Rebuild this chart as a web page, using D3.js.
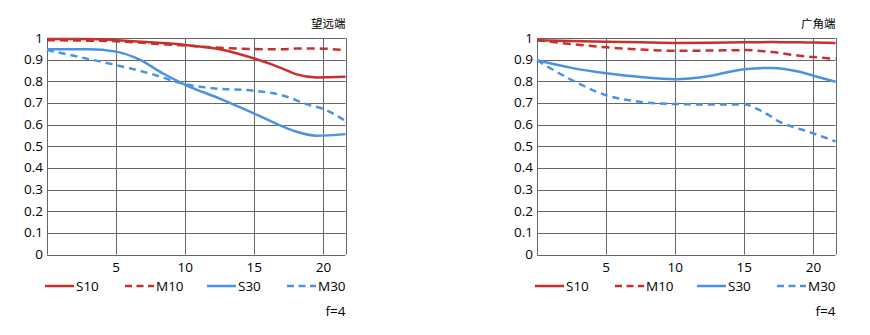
<!DOCTYPE html>
<html><head><meta charset="utf-8">
<script src="https://cdn.jsdelivr.net/npm/d3@7"></script>
<style>body{margin:0;background:#fff;} text{font-family:"Open Sans","Noto Sans CJK SC",sans-serif;}</style>
</head><body><svg id="c" width="870" height="335"></svg>
<script>
// Data
const xTicks = [5, 10, 15, 20];
const yTicks = [0, 0.1, 0.2, 0.3, 0.4, 0.5, 0.6, 0.7, 0.8, 0.9, 1];
const yTickLabels = ["0", "0.1", "0.2", "0.3", "0.4", "0.5", "0.6", "0.7", "0.8", "0.9", "1"];
const seriesNames = ["S10", "M10", "S30", "M30"];
const titles = ["望远端", "广角端"];
const apertureLabel = "f=4";

// Telephoto (望远端)
const teleX = [0, 2.5, 5, 7.5, 10, 12.5, 15, 17, 18, 19.5, 21.6];
const teleS10 = [0.995, 0.995, 0.99, 0.98, 0.968, 0.948, 0.905, 0.86, 0.833, 0.818, 0.821];
const teleM10 = [0.99, 0.988, 0.985, 0.975, 0.965, 0.955, 0.949, 0.948, 0.951, 0.952, 0.943];
const teleS30X = [0, 3, 5, 6.7, 8.4, 10, 12.5, 15, 17, 18, 19.5, 21.6];
const teleS30 = [0.948, 0.948, 0.937, 0.9, 0.836, 0.784, 0.72, 0.651, 0.593, 0.568, 0.549, 0.556];
const teleM30X = [0, 2.5, 5, 7.5, 10, 12, 15, 17, 19, 20, 21.6];
const teleM30 = [0.945, 0.91, 0.875, 0.835, 0.787, 0.768, 0.756, 0.736, 0.69, 0.672, 0.617];

// Wide (广角端)
const wideX = [0, 2.5, 5, 7.5, 10, 12.5, 15, 17, 19, 20, 21.6];
const wideS10 = [0.99, 0.986, 0.983, 0.98, 0.977, 0.978, 0.98, 0.981, 0.98, 0.979, 0.977];
const wideM10 = [0.99, 0.972, 0.957, 0.947, 0.941, 0.942, 0.944, 0.935, 0.918, 0.912, 0.904];
const wideS30 = [0.897, 0.862, 0.837, 0.82, 0.81, 0.825, 0.856, 0.862, 0.844, 0.826, 0.798];
const wideM30X = [0, 2.3, 5, 7.5, 10, 12.5, 15, 16, 17, 17.5, 18.5, 19.5, 20.5, 21.6];
const wideM30 = [0.897, 0.813, 0.736, 0.705, 0.695, 0.693, 0.693, 0.67, 0.635, 0.615, 0.59, 0.57, 0.548, 0.522];

const colors = {S10: "#c8302b", M10: "#c8302b", S30: "#4a92e2", M30: "#4a92e2"};
const dashes = {S10: null, M10: "8,5", S30: null, M30: "7,5"};

const charts = [
  {title: titles[0], ox: 0, series: [
    {name: "S10", x: teleX, y: teleS10},
    {name: "M10", x: teleX, y: teleM10},
    {name: "S30", x: teleS30X, y: teleS30},
    {name: "M30", x: teleM30X, y: teleM30}]},
  {title: titles[1], ox: 490, series: [
    {name: "S10", x: wideX, y: wideS10},
    {name: "M10", x: wideX, y: wideM10},
    {name: "S30", x: wideX, y: wideS30},
    {name: "M30", x: wideM30X, y: wideM30}]}
];

const svg = d3.select("#c");
const pL = 47, pR = 345.5, pT = 38, pB = 254.5;

charts.forEach(ch => {
  const g = svg.append("g").attr("transform", `translate(${ch.ox},0)`);
  const x = d3.scaleLinear().domain([0, 21.6]).range([pL, pR]);
  const y = d3.scaleLinear().domain([0, 1]).range([pB, pT]);

  // grid
  g.selectAll(".hg").data(yTicks).join("line")
    .attr("x1", pL).attr("x2", pR)
    .attr("y1", d => Math.round(y(d)) + 0.5).attr("y2", d => Math.round(y(d)) + 0.5)
    .attr("stroke", "#666").attr("stroke-width", 1);
  g.selectAll(".vg").data([0, ...xTicks, 21.6]).join("line")
    .attr("x1", d => Math.round(x(d)) + 0.5).attr("x2", d => Math.round(x(d)) + 0.5)
    .attr("y1", pT).attr("y2", pB)
    .attr("stroke", "#666").attr("stroke-width", 1);

  // y labels
  g.selectAll(".yl").data(yTicks).join("text")
    .attr("x", pL - 4).attr("y", d => y(d) + 4.5)
    .attr("text-anchor", "end").attr("font-size", 13.5).attr("fill", "#000")
    .text((d, i) => yTickLabels[i]);
  // x labels
  g.selectAll(".xl").data(xTicks).join("text")
    .attr("x", d => x(d)).attr("y", 272)
    .attr("text-anchor", "middle").attr("font-size", 13.5).attr("fill", "#000")
    .text(d => d);

  // lines
  const line = d3.line().curve(d3.curveMonotoneX);
  ch.series.forEach(s => {
    const pts = s.x.map((xv, i) => [x(xv), y(s.y[i])]);
    g.append("path").attr("d", line(pts))
      .attr("fill", "none").attr("stroke", colors[s.name])
      .attr("stroke-width", 2.5)
      .attr("stroke-dasharray", dashes[s.name]);
  });

  // title
  g.append("text").attr("x", pR).attr("y", 28).attr("text-anchor", "end")
    .attr("font-size", 11.5).attr("fill", "#000").text(ch.title);

  // legend
  const lx = [45, 125, 207, 287];
  seriesNames.forEach((n, i) => {
    g.append("line").attr("x1", lx[i]).attr("x2", lx[i] + 29)
      .attr("y1", 286).attr("y2", 286)
      .attr("stroke", colors[n]).attr("stroke-width", 2.5)
      .attr("stroke-dasharray", dashes[n] ? "7,4.5" : null);
    g.append("text").attr("x", lx[i] + 31).attr("y", 291)
      .attr("font-size", 13.5).attr("fill", "#000").text(n);
  });
  g.append("text").attr("x", pR).attr("y", 316).attr("text-anchor", "end")
    .attr("font-size", 13.5).attr("fill", "#000").text(apertureLabel);
});
</script></body></html>
